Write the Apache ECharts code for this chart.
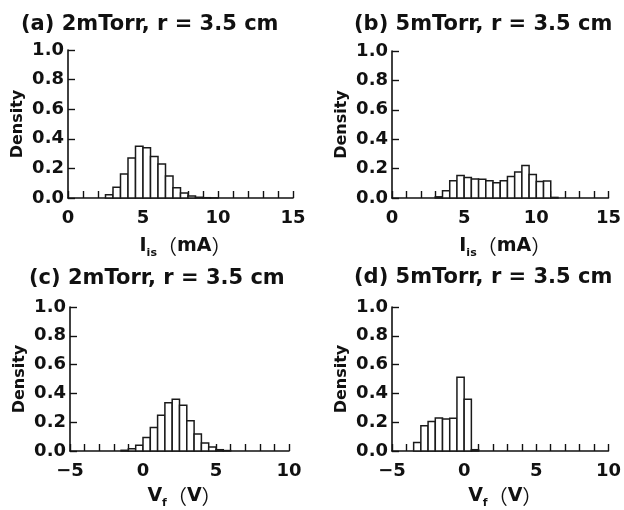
<!DOCTYPE html>
<html>
<head>
<meta charset="utf-8">
<script src="https://cdn.jsdelivr.net/npm/echarts@6/dist/echarts.min.js"></script>
<style>
html,body{margin:0;padding:0;background:#fff;}
#chart{width:624px;height:510px;}
</style>
</head>
<body>
<div id="chart"></div>
<script>
// ---- Data (bin width 0.5) ----
const binWidth = 0.5;
const aStart = 2.5;
const aDensity = [0.022, 0.073, 0.163, 0.27, 0.35, 0.34, 0.28, 0.229, 0.148, 0.07, 0.034, 0.014, 0.005, 0.002, 0.001];
const bStart = 3.0;
const bDensity = [0.008, 0.05, 0.118, 0.153, 0.14, 0.13, 0.127, 0.117, 0.103, 0.117, 0.147, 0.177, 0.221, 0.16, 0.113, 0.115, 0.004];
const cStart = -1.5;
const cDensity = [0.005, 0.016, 0.04, 0.094, 0.163, 0.248, 0.335, 0.36, 0.318, 0.21, 0.118, 0.056, 0.027, 0.009, 0.003];
const dStart = -3.5;
const dDensity = [0.059, 0.175, 0.205, 0.23, 0.223, 0.227, 0.513, 0.359, 0.009];

const titles = ['(a) 2mTorr, r = 3.5 cm', '(b) 5mTorr, r = 3.5 cm', '(c) 2mTorr, r = 3.5 cm', '(d) 5mTorr, r = 3.5 cm'];
const xTickLabelsIs = [0, 5, 10, 15];
const xTickLabelsVf = [-5, 0, 5, 10];
const yTickLabels = [0, 0.2, 0.4, 0.6, 0.8, 1.0];

const FONT = 'DejaVu Sans, sans-serif';

function bins(start, vals) {
  return vals.map((v, i) => [start + i * binWidth, start + (i + 1) * binWidth, v]);
}

const grids = [
  {left: 68, top: 50, width: 225, height: 148},
  {left: 392, top: 51, width: 223, height: 147},
  {left: 70, top: 307, width: 219, height: 145},
  {left: 392, top: 307, width: 222, height: 144}
];
const titlePos = [
  {left: 21, top: 14},
  {left: 354, top: 14},
  {left: 29, top: 268},
  {left: 354, top: 267}
];

const xRanges = [
  {min: 0, max: 15, ticks: xTickLabelsIs, name: 'is', unit: 'mA', gap: 35},
  {min: 0, max: 15, ticks: xTickLabelsIs, name: 'is', unit: 'mA', gap: 35},
  {min: -5, max: 10, ticks: xTickLabelsVf, name: 'f', unit: 'V', gap: 32},
  {min: -5, max: 10, ticks: xTickLabelsVf, name: 'f', unit: 'V', gap: 32}
];
const mainLetter = ['I', 'I', 'V', 'V'];
const data = [bins(aStart, aDensity), bins(bStart, bDensity), bins(cStart, cDensity), bins(dStart, dDensity)];

const lineCol = '#111';

const option = {
  animation: false,
  backgroundColor: '#fff',
  title: titles.map((t, i) => ({
    text: t, left: titlePos[i].left, top: titlePos[i].top, padding: 0,
    textStyle: {fontFamily: FONT, fontWeight: 'bold', fontSize: 21, color: '#111'}
  })),
  grid: grids.map(g => Object.assign({containLabel: false}, g)),
  xAxis: xRanges.map((r, i) => ({
    type: 'value', gridIndex: i, min: r.min, max: r.max, interval: 1,
    splitLine: {show: false},
    axisLine: {show: true, onZero: false, lineStyle: {color: lineCol, width: 1.6}},
    axisTick: {show: true, inside: true, length: 7, lineStyle: {color: lineCol, width: 1.4}},
    axisLabel: {
      margin: 11, fontFamily: FONT, fontWeight: 'bold', fontSize: 18, color: '#111',
      formatter: v => r.ticks.indexOf(v) >= 0 ? (v < 0 ? '\u2212' + Math.abs(v) : String(v)) : ''
    },
    name: '{m|' + mainLetter[i] + '}{s|' + r.name + '}{p|\uFF08}{m|' + r.unit + '}{p|\uFF09}',
    nameLocation: 'middle', nameGap: r.gap,
    nameTextStyle: {
      padding: [0, 0, 0, 10],
      rich: {
        m: {fontFamily: FONT, fontWeight: 'bold', fontSize: 19, color: '#111', verticalAlign: 'middle', lineHeight: 26},
        s: {fontFamily: FONT, fontWeight: 'bold', fontSize: 11, color: '#111', verticalAlign: 'bottom', lineHeight: 25},
        p: {fontFamily: 'Noto Sans CJK JP, sans-serif', fontWeight: 'normal', fontSize: 20, color: '#111', verticalAlign: 'middle', lineHeight: 26}
      }
    }
  })),
  yAxis: grids.map((g, i) => ({
    type: 'value', gridIndex: i, min: 0, max: 1, interval: 0.2,
    splitLine: {show: false},
    axisLine: {show: true, onZero: false, lineStyle: {color: lineCol, width: 1.6}},
    axisTick: {show: true, inside: true, length: 7, lineStyle: {color: lineCol, width: 1.4}},
    axisLabel: {
      margin: 4, fontFamily: FONT, fontWeight: 'bold', fontSize: 18, color: '#111',
      formatter: v => yTickLabels.some(t => Math.abs(t - v) < 1e-9) ? v.toFixed(1) : ''
    },
    name: 'Density', nameLocation: 'middle', nameGap: 42,
    nameTextStyle: {fontFamily: FONT, fontWeight: 'bold', fontSize: 16, color: '#111'}
  })),
  series: data.map((d, i) => ({
    type: 'custom', xAxisIndex: i, yAxisIndex: i, data: d,
    renderItem: function (params, api) {
      const p0 = api.coord([api.value(0), api.value(2)]);
      const p1 = api.coord([api.value(1), 0]);
      return {
        type: 'rect',
        shape: {x: p0[0], y: p0[1], width: p1[0] - p0[0], height: p1[1] - p0[1]},
        style: {fill: '#fff', stroke: '#1a1a1a', lineWidth: 1.5}
      };
    }
  }))
};

const chart = echarts.init(document.getElementById('chart'), null, {renderer: 'canvas'});
chart.setOption(option);
</script>
</body>
</html>
